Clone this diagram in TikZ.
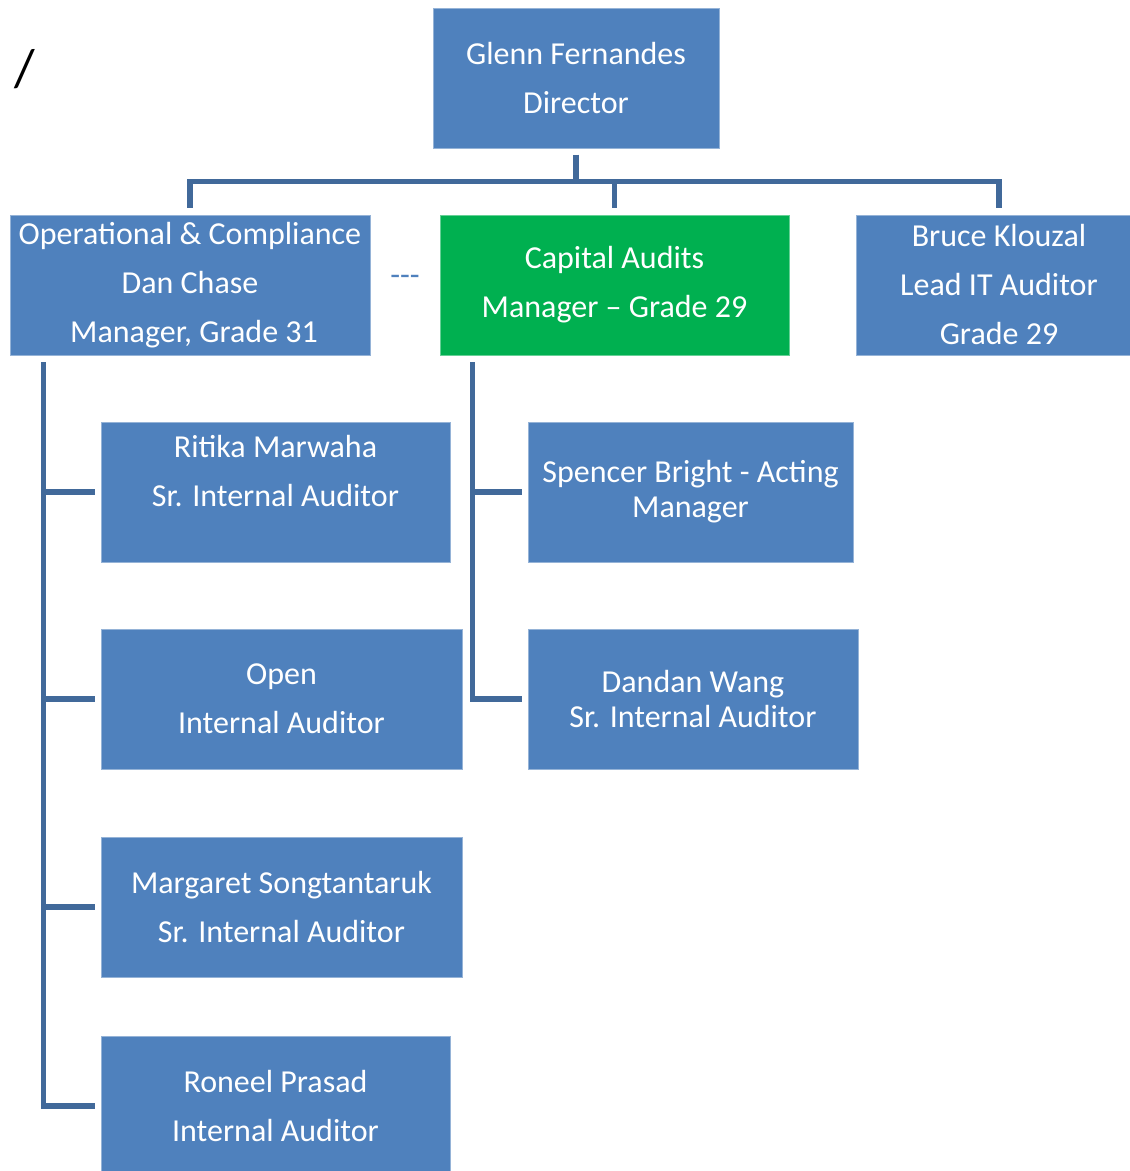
\documentclass[tikz,border=0pt]{standalone}
\usepackage{fontspec}
\setmainfont{Carlito}
\usetikzlibrary{positioning}
\definecolor{boxblue}{HTML}{4F81BD}
\definecolor{boxgreen}{HTML}{00B050}
\definecolor{lineblue}{HTML}{41699A}

\begin{document}
\begin{tikzpicture}[x=0.75pt,y=-0.75pt,
	bstyle/.style={rectangle, fill=boxblue, draw=boxblue!60!white, thin,
	text=white, align=center, inner sep=0pt,
	font=\fontsize{24}{36.75}\selectfont},
	bsize/.style 2 args={minimum width=#1*0.75pt, minimum height=#2*0.75pt},
	lstyle/.style={draw=lineblue, line width=3.8pt}
	]
	\useasboundingbox (0,0) rectangle (1129,1171);
	
	\node[font=\fontsize{40}{44}\selectfont] (slash) at (25,69) {/};
	
	\node[bstyle, bsize={286}{140}] (dir) at (576,78) {Glenn Fernandes\\Director};
	\node[bstyle, bsize={360}{140}] (ops) at (190,285) {Operational \& Compliance\\Dan Chase\\\hspace*{6pt}Manager, Grade 31};
	\node[bstyle, bsize={349}{140}, fill=boxgreen, draw=boxgreen!60!white] (cap) at (614.5,285) {Capital Audits\\Manager -- Grade 29};
	\node[bstyle, bsize={286}{140}] (bruce) at (999,285) {Bruce Klouzal\\Lead IT Auditor\\Grade 29};
	\node[text=boxblue, font=\fontsize{24}{36.75}\selectfont] (dash) at (405,280) {-{}-{}-};
	
	\node[bstyle, bsize={349}{140}, text depth=32pt] (rit) at (275.5,492) {Ritika Marwaha\\Sr. Internal Auditor};
	\node[bstyle, bsize={361}{140}] (open) at (281.5,699) {Open\\Internal Auditor};
	\node[bstyle, bsize={361}{140}] (marg) at (281.5,907) {Margaret Songtantaruk\\Sr. Internal Auditor};
	\node[bstyle, bsize={349}{140}] (ron) at (275.5,1106) {Roneel Prasad\\Internal Auditor};
	
	\node[bstyle, bsize={325}{140}, font=\fontsize{24}{26.25}\selectfont] (spen) at (690.5,492) {Spencer Bright - Acting\\Manager};
	\node[bstyle, bsize={330}{140}, font=\fontsize{24}{26.25}\selectfont] (dan) at (693,699) {Dandan Wang\\Sr. Internal Auditor};
	
	\draw[lstyle, shorten <=5pt, shorten >=5pt] (dir.south) -- ++(0,33) -| (ops.north);
	\draw[lstyle, shorten <=5pt, shorten >=5pt] (dir.south) -- ++(0,33) -| (cap.north);
	\draw[lstyle, shorten <=5pt, shorten >=5pt] (dir.south) -- ++(0,33) -| (bruce.north);
	
	\foreach \n in {rit,open,marg,ron}
		\draw[lstyle, shorten >=4pt] (ops.south west) ++(34,7) |- (\n.west);
	\foreach \n in {spen,dan}
		\draw[lstyle, shorten >=4pt] (cap.south west) ++(33,7) |- (\n.west);
\end{tikzpicture}
\end{document}
